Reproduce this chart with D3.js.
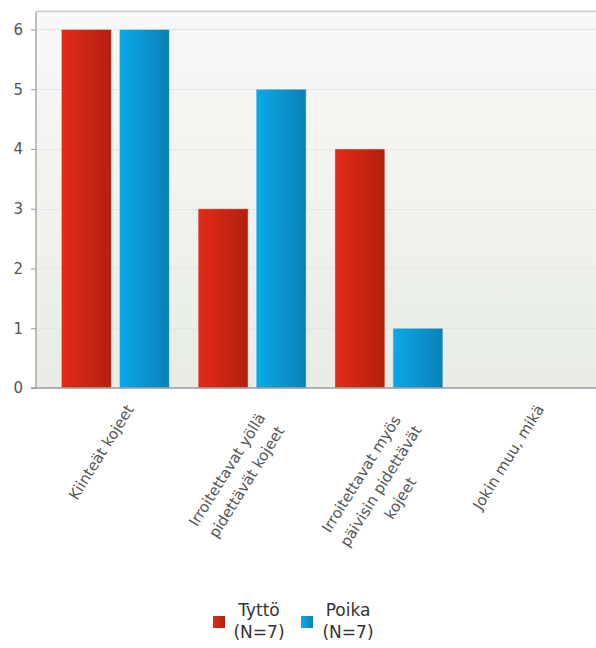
<!DOCTYPE html>
<html>
<head>
<meta charset="utf-8">
<script src="https://cdn.jsdelivr.net/npm/d3@7"></script>
<style>
  html, body { margin: 0; padding: 0; background: #ffffff; }
  svg { display: block; }
</style>
</head>
<body>
<svg id="chart" width="596" height="648"></svg>
<script>
// ---- data ----
const categories = [
  "Kiinteät kojeet",
  "Irroitettavat yöllä\npidettävät kojeet",
  "Irroitettavat myös\npäivisin pidettävät\nkojeet",
  "Jokin muu, mikä"
];
const seriesNames = ["Tyttö", "Poika"];
const seriesNotes = ["(N=7)", "(N=7)"];
const tyttoValues = [6, 3, 4, 0];
const poikaValues = [6, 5, 1, 0];
const yTicks = [0, 1, 2, 3, 4, 5, 6];

const seriesValues = [tyttoValues, poikaValues];
const colorsLight = ["#e22b18", "#0ba9ea"];
const colorsDark = ["#b41f0f", "#0a80b5"];

// ---- layout ----
const svg = d3.select("#chart");
const plotLeft = 36, plotRight = 596, plotTop = 11.5, plotBottom = 388;

const x0 = d3.scaleBand().domain(categories).range([47, 594]).paddingInner(0).paddingOuter(0);
const groupHalf = x0.step() * 0.395;
const x1 = d3.scaleBand().domain(seriesNames).range([-groupHalf, groupHalf]).paddingInner(0.138).paddingOuter(0);
const y = d3.scaleLinear().domain([0, 6.3]).range([plotBottom, plotTop]);

const defs = svg.append("defs");
const bg = defs.append("linearGradient").attr("id", "bgGrad")
  .attr("x1", 0).attr("y1", 0).attr("x2", 0).attr("y2", 1);
bg.append("stop").attr("offset", "0%").attr("stop-color", "#f8f9f7");
bg.append("stop").attr("offset", "100%").attr("stop-color", "#e8ece5");

seriesNames.forEach((s, i) => {
  const g = defs.append("linearGradient").attr("id", "barGrad" + i)
    .attr("x1", 0).attr("y1", 0).attr("x2", 1).attr("y2", 0);
  g.append("stop").attr("offset", "0%").attr("stop-color", colorsLight[i]);
  g.append("stop").attr("offset", "100%").attr("stop-color", colorsDark[i]);
});

// plot background
svg.append("rect")
  .attr("x", plotLeft).attr("y", plotTop)
  .attr("width", plotRight - plotLeft).attr("height", plotBottom - plotTop)
  .attr("fill", "url(#bgGrad)");

// top border
svg.append("line")
  .attr("x1", plotLeft).attr("x2", plotRight)
  .attr("y1", plotTop).attr("y2", plotTop)
  .attr("stroke", "#cccccc").attr("stroke-width", 1.5);

// grid lines
svg.append("g").selectAll("line").data(yTicks.filter(d => d > 0)).join("line")
  .attr("x1", plotLeft).attr("x2", plotRight)
  .attr("y1", d => Math.round(y(d)) + 0.5).attr("y2", d => Math.round(y(d)) + 0.5)
  .attr("stroke", "#e4e6e3").attr("stroke-width", 1);

// bars
const groups = svg.append("g").selectAll("g").data(categories).join("g")
  .attr("transform", d => `translate(${x0(d) + x0.bandwidth() / 2},0)`);
groups.selectAll("rect")
  .data((c, ci) => seriesNames.map((s, si) => ({ s, si, v: seriesValues[si][ci] })))
  .join("rect")
  .attr("x", d => x1(d.s))
  .attr("width", x1.bandwidth())
  .attr("y", d => y(d.v))
  .attr("height", d => plotBottom - y(d.v))
  .attr("fill", d => `url(#barGrad${d.si})`)
  .attr("stroke", "#ffffff").attr("stroke-opacity", 0.45).attr("stroke-width", 1)
  .attr("display", d => d.v > 0 ? null : "none");

// y axis
const yAxis = d3.axisLeft(y).tickValues(yTicks).tickSize(5).tickPadding(8).tickFormat(d3.format("d"));
const yg = svg.append("g").attr("transform", `translate(${plotLeft},0)`).call(yAxis);
yg.select(".domain").remove();
yg.selectAll(".tick line").attr("stroke", "#999999");
yg.selectAll(".tick text")
  .attr("font-family", "DejaVu Sans, sans-serif").attr("font-size", 15).attr("fill", "#555555");

svg.append("line")
  .attr("x1", plotLeft).attr("x2", plotLeft)
  .attr("y1", plotTop).attr("y2", plotBottom)
  .attr("stroke", "#a8a8a8").attr("stroke-width", 1.5);
svg.append("line")
  .attr("x1", plotLeft - 5).attr("x2", plotRight)
  .attr("y1", plotBottom).attr("y2", plotBottom)
  .attr("stroke", "#999999").attr("stroke-width", 1.5);

// x labels (rotated, multi-line centered)
const angle = -58;
const rad = angle * Math.PI / 180;
const lineGap = 23;
const xLab = svg.append("g");
categories.forEach((c) => {
  const lines = c.split("\n");
  const cx = x0(c) + x0.bandwidth() / 2;
  const shift = lines.length > 1 ? -10 : 0;
  const ax = cx + 19 + shift * Math.cos(rad);
  const ay = 409 + shift * Math.sin(rad);
  const t = xLab.append("text")
    .attr("transform", `translate(${ax},${ay}) rotate(${angle})`)
    .attr("font-family", "DejaVu Sans, sans-serif")
    .attr("font-size", 15)
    .attr("fill", "#555555")
    .attr("text-anchor", "middle");
  const spans = lines.map((ln, i) => t.append("tspan").attr("y", i * lineGap).text(ln));
  const widths = spans.map(s => s.node().getComputedTextLength());
  const maxW = d3.max(widths);
  spans.forEach(s => s.attr("x", -maxW / 2));
});

// legend
const legend = svg.append("g");
const legendItems = [
  { sx: 213, tx: 259 },
  { sx: 301, tx: 348 }
];
seriesNames.forEach((s, i) => {
  legend.append("rect")
    .attr("x", legendItems[i].sx).attr("y", 616)
    .attr("width", 12).attr("height", 12)
    .attr("fill", `url(#barGrad${i})`);
  const t = legend.append("text")
    .attr("font-family", "DejaVu Sans, sans-serif")
    .attr("font-size", 17)
    .attr("fill", "#333333")
    .attr("text-anchor", "middle");
  t.append("tspan").attr("x", legendItems[i].tx).attr("y", 616).text(s);
  t.append("tspan").attr("x", legendItems[i].tx).attr("y", 638).text(seriesNotes[i]);
});
</script>
</body>
</html>
